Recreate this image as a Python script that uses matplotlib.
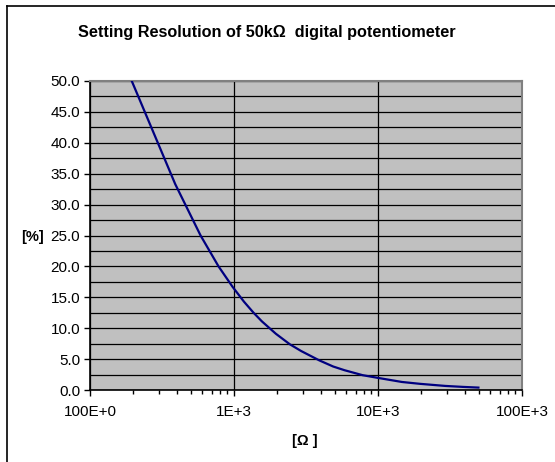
import matplotlib
matplotlib.use("Agg")
import matplotlib.pyplot as plt
from matplotlib.ticker import LogLocator, MultipleLocator, FuncFormatter
from matplotlib.lines import Line2D

# resistance setting [Ohm] and setting resolution [%]
resistance = [195, 391, 586, 781, 977, 1172, 1367, 1563, 1953, 2441, 2930,
              3906, 4883, 5859, 7813, 9766, 14648, 19531, 29297, 39063, 49805]
resolution = [50.0, 33.3, 25.0, 20.0, 16.7, 14.3, 12.5, 11.1, 9.1, 7.4, 6.3,
              4.8, 3.8, 3.2, 2.4, 2.0, 1.3, 1.0, 0.66, 0.5, 0.39]

x_ticks = [100, 1000, 10000, 100000]
x_labels = ["100E+0", "1E+3", "10E+3", "100E+3"]

plt.rcParams['font.family'] = ['Liberation Sans', 'DejaVu Sans']

fig = plt.figure(figsize=(5.55, 4.62), dpi=100)
ax = fig.add_axes([90 / 555, 72 / 462, 432 / 555, 309 / 462])
ax.set_facecolor('#c0c0c0')

ax.plot(resistance, resolution, color='#000080', lw=1.6, zorder=3)

ax.set_xscale('log')
ax.set_xlim(100, 100000)
ax.set_ylim(0, 50)

ax.set_xticks(x_ticks)
ax.set_xticklabels(x_labels)
ax.xaxis.set_minor_locator(LogLocator(base=10, subs=range(2, 10)))
ax.xaxis.set_minor_formatter(FuncFormatter(lambda v, p: ""))
ax.yaxis.set_major_locator(MultipleLocator(5))
ax.yaxis.set_minor_locator(MultipleLocator(2.5))
ax.yaxis.set_major_formatter(FuncFormatter(lambda v, p: "%.1f" % v))

ax.grid(True, which='major', axis='x', color='black', lw=0.9)
ax.grid(True, which='both', axis='y', color='black', lw=0.9)
ax.set_axisbelow(True)

ax.tick_params(axis='both', which='major', labelsize=11, direction='out',
               length=4, width=1, color='black', pad=3)
ax.tick_params(axis='x', which='minor', direction='out', length=3, width=1)
ax.tick_params(axis='y', which='minor', length=0)
ax.tick_params(axis='x', which='major', pad=7)

for side in ['top', 'right']:
    ax.spines[side].set_color('#808080')
    ax.spines[side].set_linewidth(1.5)
for side in ['left', 'bottom']:
    ax.spines[side].set_color('black')
    ax.spines[side].set_linewidth(1.2)

fig.text(267 / 555, 1 - 32 / 462, "Setting Resolution of 50k\u03a9  digital potentiometer",
         ha='center', va='center', fontsize=11.7, fontweight='bold')
fig.text(32 / 555, 1 - 237 / 462, "[%]", ha='center', va='center',
         fontsize=10.5, fontweight='bold')
fig.text(305 / 555, 1 - 441 / 462, "[\u03a9 ]", ha='center', va='center',
         fontsize=10.5, fontweight='bold')

# chart border (top and left visible)
fig.add_artist(Line2D([7 / 555, 1], [1 - 6 / 462, 1 - 6 / 462], color='black', lw=1.2))
fig.add_artist(Line2D([7 / 555, 7 / 555], [0, 1 - 6 / 462], color='black', lw=1.2))

fig.savefig("out.png", dpi=100)
